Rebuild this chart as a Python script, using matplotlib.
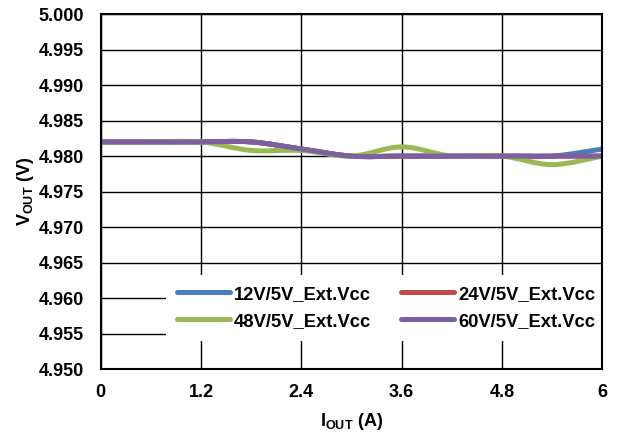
import numpy as np
import matplotlib
matplotlib.use('Agg')
import matplotlib.pyplot as plt
from matplotlib.path import Path
from matplotlib.patches import PathPatch
from matplotlib.lines import Line2D

plt.rcParams['font.family'] = 'Liberation Sans'
plt.rcParams['font.weight'] = 'bold'
plt.rcParams['axes.labelweight'] = 'bold'
plt.rcParams['mathtext.fontset'] = 'custom'
plt.rcParams['mathtext.rm'] = 'Liberation Sans:bold'

# data
iout = [0, 0.6, 1.2, 1.8, 2.4, 3.0, 3.6, 4.2, 4.8, 5.4, 6.0]
v_12 = [4.982, 4.982, 4.982, 4.982, 4.981, 4.980, 4.980, 4.980, 4.980, 4.980, 4.981]
v_24 = [4.982, 4.982, 4.982, 4.982, 4.981, 4.980, 4.980, 4.980, 4.980, 4.980, 4.980]
v_48 = [4.982, 4.982, 4.982, 4.9808, 4.9808, 4.980, 4.9813, 4.980, 4.980, 4.9788, 4.980]
v_60 = [4.982, 4.982, 4.982, 4.982, 4.981, 4.980, 4.980, 4.980, 4.980, 4.980, 4.980]

labels = ['12V/5V_Ext.Vcc', '24V/5V_Ext.Vcc', '48V/5V_Ext.Vcc', '60V/5V_Ext.Vcc']
colors = ['#4a7ebb', '#be4b48', '#98b954', '#7d60a0']


def smooth_path(x, y):
    """ Excel style smoothed line: cubic bezier through each point """
    x = np.asarray(x, float)
    y = np.asarray(y, float)
    verts = [(x[0], y[0])]
    codes = [Path.MOVETO]
    n = len(x)
    for i in range(n - 1):
        i0 = max(i - 1, 0)
        i3 = min(i + 2, n - 1)
        c1 = (x[i] + (x[i + 1] - x[i0]) / 6, y[i] + (y[i + 1] - y[i0]) / 6)
        c2 = (x[i + 1] - (x[i3] - x[i]) / 6, y[i + 1] - (y[i3] - y[i]) / 6)
        verts += [c1, c2, (x[i + 1], y[i + 1])]
        codes += [Path.CURVE4] * 3
    return Path(verts, codes)


fs = 13
fig = plt.figure(figsize=(6.42, 4.41), dpi=100)
ax = fig.add_axes([0.157, 0.163, 0.781, 0.805])

for vals, c in zip([v_12, v_24, v_48, v_60], colors):
    ax.add_patch(PathPatch(smooth_path(iout, vals), fill=False, edgecolor=c,
                           lw=3.6, capstyle='round', joinstyle='round', zorder=3))

ax.set_xlim(0, 6)
ax.set_ylim(4.950, 5.000)
ax.set_xticks([0, 1.2, 2.4, 3.6, 4.8, 6])
ax.set_xticklabels(['0', '1.2', '2.4', '3.6', '4.8', '6'])
ax.set_yticks(np.arange(4.950, 5.0001, 0.005))
ax.set_yticklabels(['%.3f' % v for v in np.arange(4.950, 5.0001, 0.005)])
ax.tick_params(length=0, labelsize=fs)
ax.tick_params(axis='y', pad=12)
ax.tick_params(axis='x', pad=11)
ax.grid(True, color='black', lw=1.0)
for s in ax.spines.values():
    s.set_linewidth(1.5)
    s.set_zorder(6)

ax.set_xlabel(r'I$_\mathrm{OUT}$ (A)', fontsize=fs, labelpad=7)
ax.set_ylabel(r'V$_\mathrm{OUT}$ (V)', fontsize=fs, labelpad=2)

# legend is filled row by row in the original, matplotlib fills by column
order = [0, 2, 1, 3]
handles = [Line2D([], [], color=colors[i], lw=3.6, solid_capstyle='round') for i in order]
leg = ax.legend(handles, [labels[i] for i in order], ncol=2, loc='upper left',
                bbox_to_anchor=(0.13, 0.266),
                frameon=True, fancybox=False, edgecolor='none', framealpha=1,
                fontsize=13.2, handlelength=2.9, handletextpad=0.2, columnspacing=1.64,
                labelspacing=0.55, borderpad=0.6, borderaxespad=0)
leg.set_zorder(5)

plt.savefig('out.png', dpi=100)
